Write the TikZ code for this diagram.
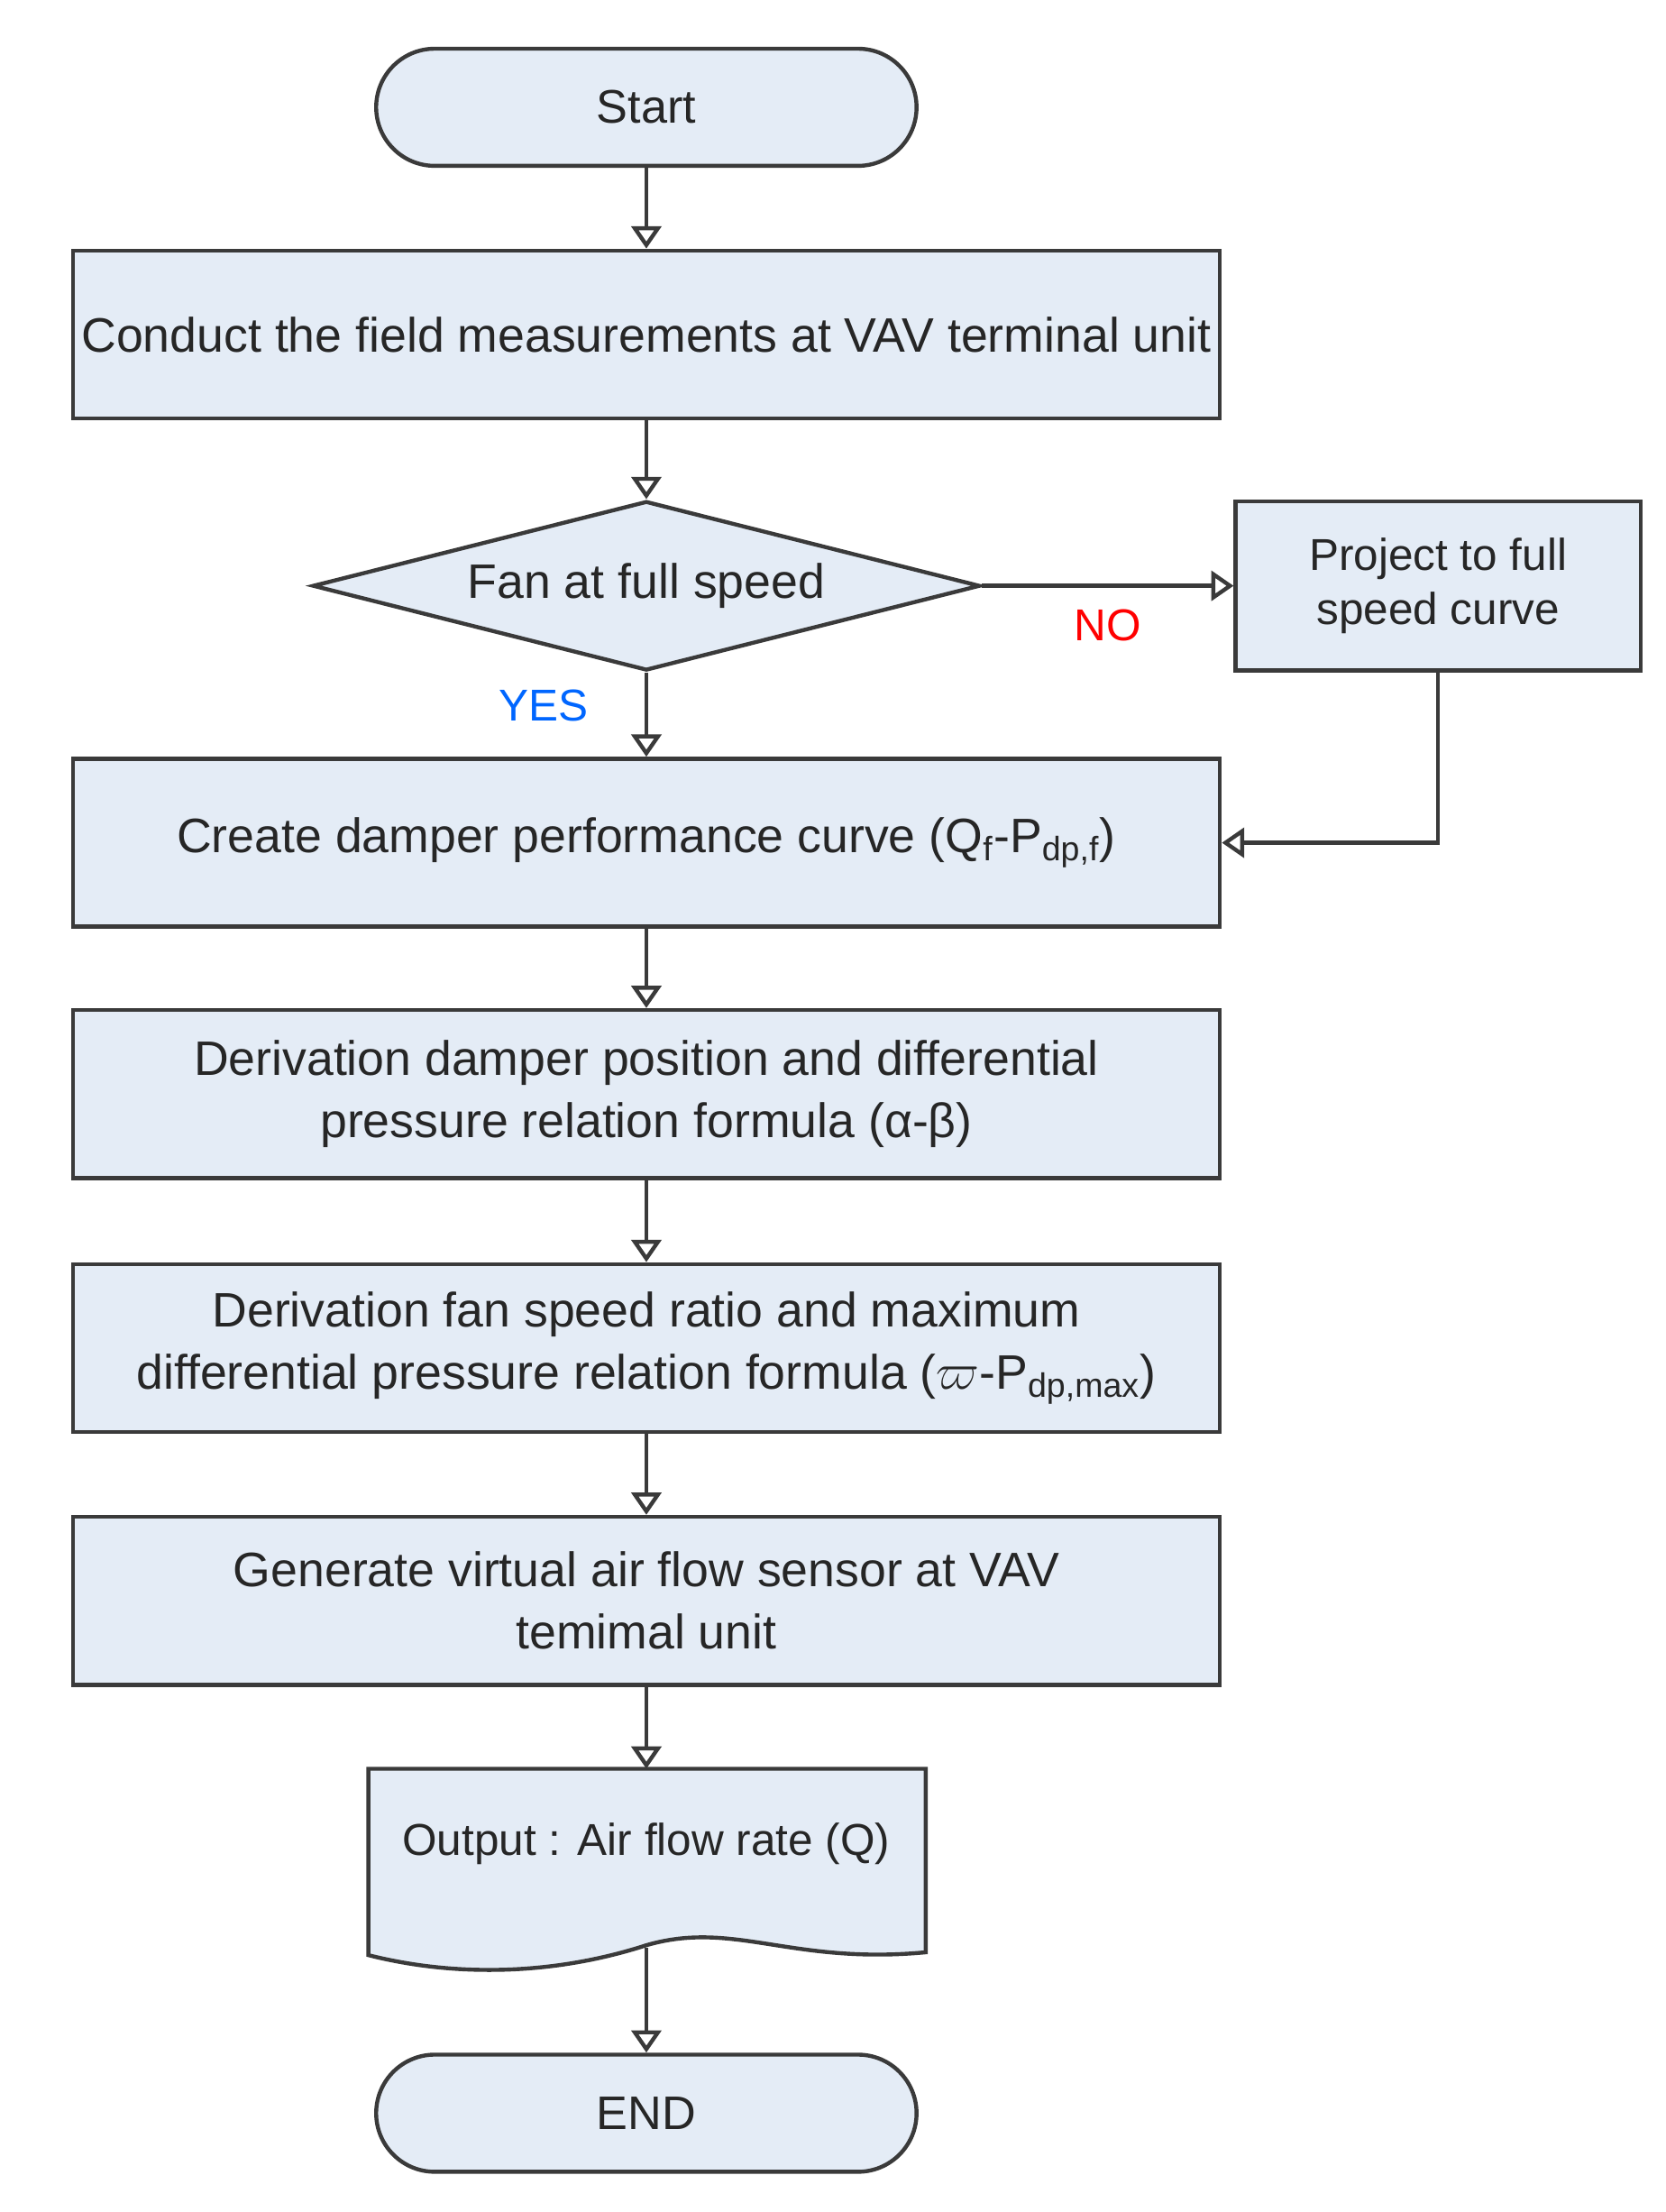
\documentclass[tikz,border=0pt]{standalone}
\usepackage{fontspec}
\setmainfont{Liberation Sans}
\usetikzlibrary{arrows.meta,shapes.geometric}
\definecolor{fillb}{HTML}{E4ECF6}
\definecolor{edge}{HTML}{3A3A3A}
\begin{document}
\begin{tikzpicture}[x=0.02cm,y=-0.02cm,
  box/.style={draw=edge,line width=1.6pt,fill=fillb,minimum width=16.26cm,minimum height=2.38cm,align=center,inner sep=0pt,font=\fontsize{19.5}{25}\selectfont,text=black!85},
  term/.style={draw=edge,line width=1.6pt,fill=fillb,rounded corners=0.83cm,minimum width=7.66cm,minimum height=1.66cm,font=\fontsize{19}{23}\selectfont,text=black!85},
  arr/.style={draw=edge,line width=1.6pt,-{Triangle[open,width=12pt,length=9pt]}}]
\useasboundingbox (0,0) rectangle (1180,1567);
\node[term] (start) at (458,76) {Start};
\node[box,font=\fontsize{19.5}{22}\selectfont] (b1) at (458,237) {Conduct the field measurements at VAV terminal unit};
\node[draw=edge,line width=1.6pt,fill=fillb,diamond,aspect=3.94,minimum width=9.46cm,minimum height=2.4cm,inner sep=0pt,font=\fontsize{19.5}{23}\selectfont,text=black!85] (d) at (458,415) {Fan at full speed};
\node[draw=edge,line width=1.6pt,fill=fillb,minimum width=5.74cm,minimum height=2.4cm,align=center,font=\fontsize{18}{22}\selectfont,text=black!85] (p) at (1019,415) {Project to full\\speed curve};
\node[box] (b2) at (458,597) {Create damper performance curve (Q\textsubscript{f}-P\textsubscript{dp,f})};
\node[box] (b3) at (458,775) {Derivation damper position and differential\\pressure relation formula (α-β)};
\node[box] (b4) at (458,955) {Derivation fan speed ratio and maximum\\differential pressure relation formula ($\varpi$-P\textsubscript{dp,max})};
\node[box] (b5) at (458,1134) {Generate virtual air flow sensor at VAV\\temimal unit};
\filldraw[draw=edge,line width=1.6pt,fill=fillb] (261,1253) -- (656,1253) -- (656,1383)
  .. controls (560,1392) and (520,1360) .. (458,1378)
  .. controls (390,1400) and (320,1400) .. (261,1385) -- cycle;
\node[minimum width=7.9cm,minimum height=2.6cm,anchor=north] (out) at (458,1253) {};
\node[font=\fontsize{18}{22}\selectfont,text=black!85] (outt) at (458,1306) {Output : Air flow rate (Q)};
\coordinate (outb) at (458,1380);
\node[term] (end) at (458,1497) {END};
\draw[arr] (start) -- (b1);
\draw[arr] (b1) -- (d);
\draw[arr] (d) -- (b2);
\draw[arr] (d.east) -- (p.west);
\draw[arr] (p.south) |- (b2.east);
\draw[arr] (b2) -- (b3);
\draw[arr] (b3) -- (b4);
\draw[arr] (b4) -- (b5);
\draw[arr] (b5) -- (out.north);
\draw[arr] (outb) -- (end);
\node[text=red,font=\fontsize{18}{22}\selectfont] (no) at (785,443) {NO};
\node[text=blue!60!cyan,font=\fontsize{18}{22}\selectfont] (yes) at (385,500) {YES};
\end{tikzpicture}
\end{document}
